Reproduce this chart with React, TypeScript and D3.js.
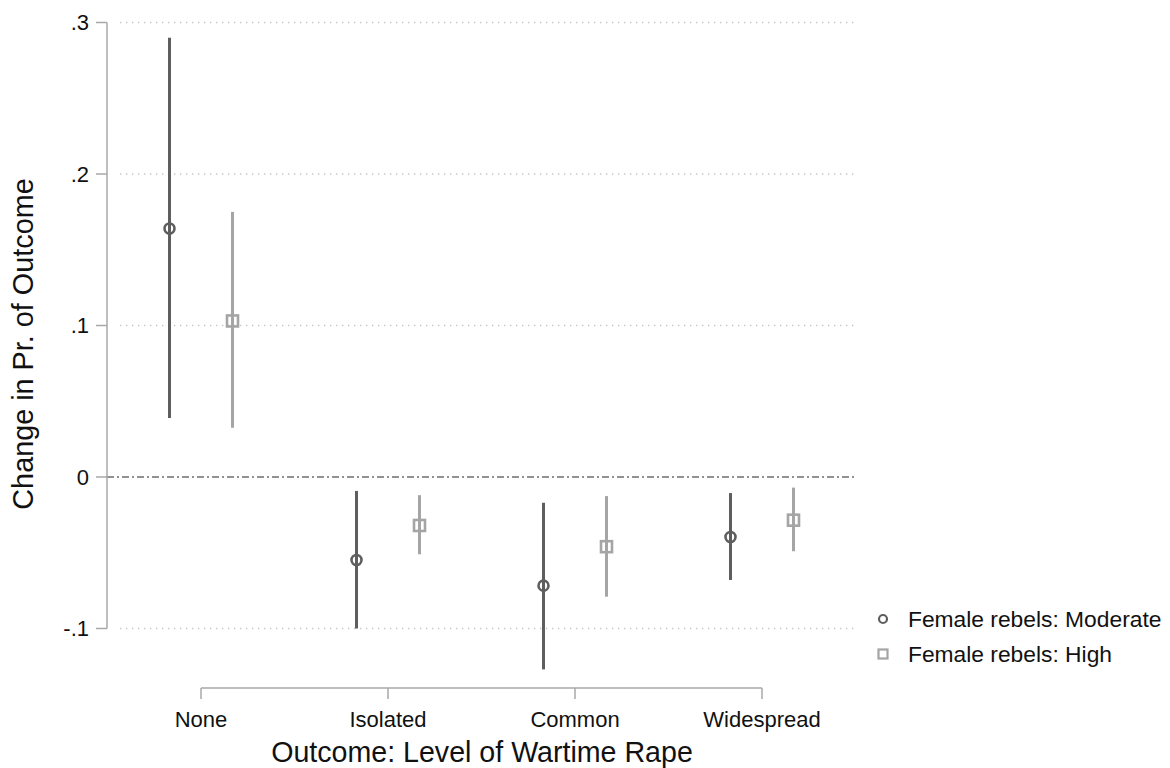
import React from "react";
import * as d3 from "d3";

const categories = ["None", "Isolated", "Common", "Widespread"];
const seriesNames = ["Female rebels: Moderate", "Female rebels: High"];
const moderateEst = [0.164, -0.0548, -0.0717, -0.0396];
const moderateLo = [0.039, -0.1, -0.127, -0.068];
const moderateHi = [0.29, -0.0092, -0.017, -0.0106];
const highEst = [0.103, -0.032, -0.046, -0.0285];
const highLo = [0.0325, -0.051, -0.079, -0.049];
const highHi = [0.175, -0.012, -0.0126, -0.007];
const yTicks = [-0.1, 0, 0.1, 0.2, 0.3];
const yTickLabels = ["-.1", "0", ".1", ".2", ".3"];

const W = 1170;
const H = 768;
const FONT = "'Liberation Sans', Arial, Helvetica, sans-serif";
const DARK = "#5e5e5e";
const LIGHT = "#a5a5a5";

export default function App() {
  const y = d3.scaleLinear().domain([-0.1, 0.3]).range([628.5, 22.5]);
  const x = d3.scalePoint<string>().domain(categories).range([201, 762]);
  const off = 31.5;
  const gridX0 = 120;
  const gridX1 = 856;
  const axisX = 107;
  const axisY = 688;

  const series = [
    { name: seriesNames[0], est: moderateEst, lo: moderateLo, hi: moderateHi, dx: -off, color: DARK, shape: "circle" },
    { name: seriesNames[1], est: highEst, lo: highLo, hi: highHi, dx: off, color: LIGHT, shape: "square" },
  ];

  return (
    <svg width={W} height={H} style={{ display: "block", position: "absolute", left: 0, top: 0 }} fontFamily={FONT}>
      <rect width={W} height={H} fill="#ffffff" />
      {/* gridlines */}
      {yTicks.map((t) =>
        t === 0 ? (
          <line key={t} x1={axisX} x2={gridX1} y1={y(t)} y2={y(t)} stroke="#6e6e6e" strokeWidth={1.5} strokeDasharray="7,3,2,3" />
        ) : (
          <line key={t} x1={gridX0} x2={gridX1} y1={y(t)} y2={y(t)} stroke="#c4c4c4" strokeWidth={1.3} strokeDasharray="1.3,4.7" />
        )
      )}
      {/* y axis */}
      <line x1={axisX} x2={axisX} y1={y(0.3)} y2={y(-0.1)} stroke="#a8a8a8" strokeWidth={1.5} />
      {yTicks.map((t, i) => (
        <g key={"yt" + t}>
          <line x1={96} x2={axisX} y1={y(t)} y2={y(t)} stroke="#a8a8a8" strokeWidth={1.5} />
          <text x={89} y={y(t)} dy="0.36em" textAnchor="end" fontSize={22} fill="#111">
            {yTickLabels[i]}
          </text>
        </g>
      ))}
      <text transform={`translate(33,344) rotate(-90)`} textAnchor="middle" fontSize={28.8} fill="#111">
        Change in Pr. of Outcome
      </text>
      {/* x axis */}
      <line x1={x(categories[0])} x2={x(categories[3])} y1={axisY} y2={axisY} stroke="#a8a8a8" strokeWidth={1.5} />
      {categories.map((c) => (
        <g key={"xt" + c}>
          <line x1={x(c)} x2={x(c)} y1={axisY} y2={axisY + 11} stroke="#a8a8a8" strokeWidth={1.5} />
          <text x={x(c)} y={727} textAnchor="middle" fontSize={22} fill="#111">
            {c}
          </text>
        </g>
      ))}
      <text x={482} y={762} textAnchor="middle" fontSize={28.6} fill="#111">
        Outcome: Level of Wartime Rape
      </text>
      {/* series */}
      {series.map((s) =>
        categories.map((c, i) => {
          const cx = (x(c) as number) + s.dx;
          return (
            <g key={s.name + c}>
              <line x1={cx} x2={cx} y1={y(s.hi[i])} y2={y(s.lo[i])} stroke={s.color} strokeWidth={3} />
              {s.shape === "circle" ? (
                <circle cx={cx} cy={y(s.est[i])} r={5} fill="none" stroke={s.color} strokeWidth={2.6} />
              ) : (
                <rect x={cx - 5.5} y={y(s.est[i]) - 5.5} width={11} height={11} fill="none" stroke={s.color} strokeWidth={2.6} />
              )}
            </g>
          );
        })
      )}
      {/* legend */}
      <circle cx={883} cy={619} r={4} fill="none" stroke={DARK} strokeWidth={2.2} />
      <text x={908} y={619} dy="0.36em" fontSize={22.8} fill="#111">
        {seriesNames[0]}
      </text>
      <rect x={878.5} y={649.5} width={9} height={9} fill="none" stroke={LIGHT} strokeWidth={2.2} />
      <text x={908} y={654} dy="0.36em" fontSize={22.8} fill="#111">
        {seriesNames[1]}
      </text>
    </svg>
  );
}
